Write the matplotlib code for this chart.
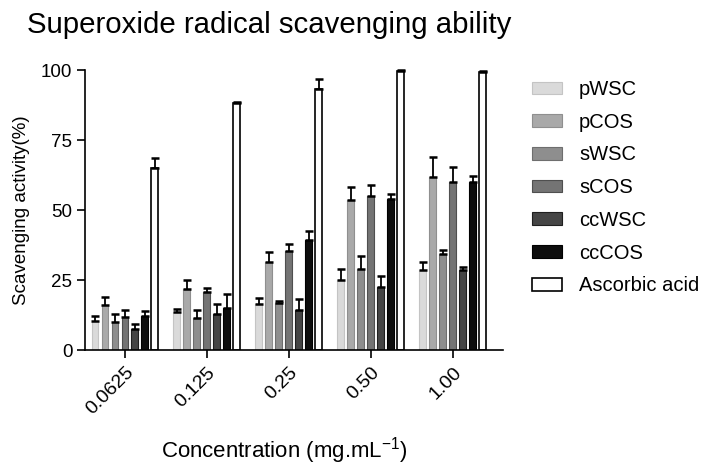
import matplotlib.pyplot as plt
import numpy as np

plt.rcParams['font.family'] = ['Liberation Sans', 'DejaVu Sans']
plt.rcParams['mathtext.default'] = 'regular'

concentrations = ['0.0625', '0.125', '0.25', '0.50', '1.00']
samples = ['pWSC', 'pCOS', 'sWSC', 'sCOS', 'ccWSC', 'ccCOS', 'Ascorbic acid']

# mean scavenging activity (%) per sample, one value per concentration
pWSC = [10.4, 13.7, 16.3, 25.0, 28.5]
pCOS = [16.0, 22.0, 31.4, 53.6, 61.7]
sWSC = [10.2, 11.3, 16.7, 29.0, 34.3]
sCOS = [11.9, 20.6, 35.5, 54.9, 59.9]
ccWSC = [7.4, 13.0, 14.3, 22.4, 28.5]
ccCOS = [12.1, 15.1, 39.3, 53.9, 59.9]
ascorbic = [65.1, 88.1, 93.2, 99.8, 99.4]

# standard deviation (upper error bar only)
pWSC_sd = [1.9, 0.9, 2.2, 3.9, 2.8]
pCOS_sd = [3.0, 3.2, 3.8, 4.7, 7.1]
sWSC_sd = [2.6, 3.2, 1.0, 4.7, 1.5]
sCOS_sd = [2.5, 1.7, 2.4, 3.9, 5.5]
ccWSC_sd = [1.9, 3.4, 3.9, 3.9, 1.3]
ccCOS_sd = [1.8, 5.1, 3.4, 1.7, 2.2]
ascorbic_sd = [3.6, 0.6, 3.6, 0.3, 0.4]

means = [pWSC, pCOS, sWSC, sCOS, ccWSC, ccCOS, ascorbic]
sds = [pWSC_sd, pCOS_sd, sWSC_sd, sCOS_sd, ccWSC_sd, ccCOS_sd, ascorbic_sd]
colors = ['#dadada', '#a9a9a9', '#8e8e8e', '#747474', '#454545', '#0d0d0d', '#ffffff']
edges = ['#c4c4c4', '#8f8f8f', '#6e6e6e', '#4f4f4f', '#1f1f1f', '#000000', '#000000']

fig = plt.figure(figsize=(7.07, 4.70), dpi=100)
ax = fig.add_axes([0.120, 0.255, 0.591, 0.596])

x = np.arange(len(concentrations))
pitch = 0.122
width = 0.085
for i, (m, s) in enumerate(zip(means, sds)):
    pos = x + (i - 3) * pitch
    ax.bar(pos, m, width, color=colors[i], edgecolor=edges[i],
           linewidth=1.2 if i == 6 else 0.8, label=samples[i], zorder=2)
    ax.errorbar(pos, m, yerr=[np.zeros(len(m)), s], fmt='none',
                ecolor='black', elinewidth=1.3, capsize=2.8, capthick=1.8,
                zorder=3, clip_on=False)

ax.set_xlim(-0.49, 4.61)
ax.set_ylim(0, 100)
ax.set_yticks([0, 25, 50, 75, 100])
ax.set_xticks(x)
ax.set_xticklabels(concentrations, rotation=45, ha='right', rotation_mode='anchor')
ax.tick_params(axis='both', width=1.2, length=6)
ax.tick_params(axis='y', labelsize=13.5, pad=3)
ax.tick_params(axis='x', labelsize=14, pad=4)
for side in ['top', 'right']:
    ax.spines[side].set_visible(False)
for side in ['left', 'bottom']:
    ax.spines[side].set_linewidth(1.2)

ax.set_ylabel('Scavenging activity(%)', fontsize=13.5)
ax.yaxis.set_label_coords(-0.132, 0.5)
ax.set_xlabel('Concentration (mg.mL$^{-1}$)', fontsize=16)
ax.xaxis.set_label_coords(0.478, -0.305)
fig.text(0.038, 0.93, 'Superoxide radical scavenging ability', fontsize=21.2,
         va='baseline')

ax.legend(loc='upper left', bbox_to_anchor=(1.05, 0.993), frameon=False,
          fontsize=14.5, handlelength=1.5, handleheight=0.6, labelspacing=0.68,
          handletextpad=0.85, borderaxespad=0.0)

fig.savefig('out.png', dpi=100)
